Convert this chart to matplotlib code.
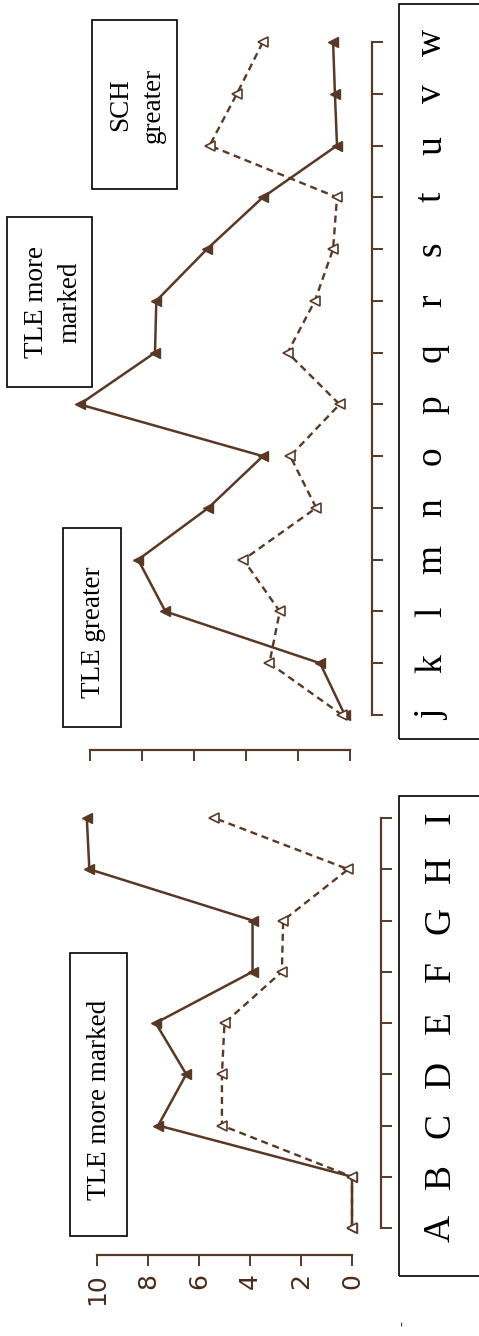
import matplotlib
matplotlib.use("Agg")
import matplotlib.pyplot as plt
from matplotlib.patches import Rectangle

# panel 1 (lower in the picture)
left_categories = ["A", "B", "C", "D", "E", "F", "G", "H", "I"]
left_tle = [0, 0, 7.6, 6.5, 7.7, 3.9, 3.9, 10.3, 10.4]
left_sch = [0, 0, 5.1, 5.1, 5.0, 2.75, 2.7, 0.15, 5.4]

# panel 2 (upper in the picture)
right_categories = ["j", "k", "l", "m", "n", "o", "p", "q", "r", "s", "t", "u", "v", "w"]
right_tle = [0.2, 1.15, 7.1, 8.15, 5.45, 3.35, 10.4, 7.5, 7.45, 5.5, 3.35, 0.5, 0.58, 0.65]
right_sch = [0.3, 3.1, 2.7, 4.1, 1.3, 2.3, 0.4, 2.4, 1.35, 0.65, 0.5, 5.4, 4.35, 3.35]

value_ticks = [0, 2, 4, 6, 8, 10]

W, H = 479, 1336
BROWN = "#5a3826"
SERIF = ["Liberation Serif", "DejaVu Serif"]

fig = plt.figure(figsize=(W / 100, H / 100), dpi=100)


def px_box(x0, y0, x1, y1):
    # pixel box (top-left origin) -> figure fraction rect
    return [x0 / W, 1 - y1 / H, (x1 - x0) / W, (y1 - y0) / H]


def make_panel(box, zero_px, px_unit, first_py, py_cat, cat_spine_px, val_spine_py,
               cats, tle, sch, show_values=True):
    x0, y0, x1, y1 = box
    ax = fig.add_axes(px_box(x0, y0, x1, y1))
    ax.set_xlim((zero_px - x0) / px_unit, (zero_px - x1) / px_unit)
    ax.set_ylim((first_py - y1) / py_cat, (first_py - y0) / py_cat)
    ax.patch.set_alpha(0)

    pos = list(range(len(cats)))
    ax.plot(tle, pos, color=BROWN, lw=1.8, marker="<", ms=7,
            mfc=BROWN, mec=BROWN, zorder=3)
    ax.plot(sch, pos, color=BROWN, lw=1.7, ls=(0, (3, 2)), marker="<", ms=7,
            mfc="white", mec=BROWN, mew=1.2, zorder=3)

    for s in ["left", "top"]:
        ax.spines[s].set_visible(False)
    ax.spines["right"].set_position(("data", (zero_px - cat_spine_px) / px_unit))
    ax.spines["right"].set_bounds(0, len(cats) - 1)
    ax.spines["bottom"].set_position(("data", (first_py - val_spine_py) / py_cat))
    ax.spines["bottom"].set_bounds(0, 10)
    for s in ["right", "bottom"]:
        ax.spines[s].set_color(BROWN)
        ax.spines[s].set_linewidth(1.6)

    ax.yaxis.tick_right()
    ax.set_yticks(pos)
    ax.set_yticklabels(cats, rotation=90, fontsize=27, family=SERIF,
                       ha="center", va="center")
    ax.tick_params(axis="y", direction="out", length=8, width=1.4,
                   color=BROWN, pad=35)

    ax.set_xticks(value_ticks)
    if show_values:
        ax.set_xticklabels([str(v) for v in value_ticks], rotation=90,
                           fontsize=18, color="#4a2c1c")
    else:
        ax.set_xticklabels([])
    ax.tick_params(axis="x", direction="out", length=8, width=1.4,
                   color=BROWN, pad=5)
    return ax


make_panel((60, 780, 392, 1262), 352, 25.5, 1228, 51.25, 381, 1255,
           left_categories, left_tle, left_sch)
make_panel((60, 0, 392, 760), 350, 26.0, 715, 51.77, 372, 750,
           right_categories, right_tle, right_sch, show_values=False)


def frame(x0, y0, x1, y1):
    fig.add_artist(Rectangle((x0 / W, 1 - y1 / H), (x1 - x0) / W, (y1 - y0) / H,
                             transform=fig.transFigure, fill=False,
                             edgecolor="black", lw=1.2, clip_on=False))


def note(x, y, s):
    fig.text(x / W, 1 - y / H, s, rotation=90, ha="center", va="center",
             fontsize=19.5, family=SERIF, linespacing=1.45, multialignment="center")


# category label frames
frame(399, 796, 490, 1276)
frame(399, 4, 490, 739)

# annotation frames
frame(70, 953, 127, 1236)
note(100, 1100, "TLE more marked")
frame(63, 528, 121, 727)
note(93, 632, "TLE greater")
frame(7, 217, 92, 387)
note(53, 302, "TLE more\nmarked")
frame(92, 20, 177, 189)
note(137, 105, "SCH\ngreater")

fig.text(403 / W, 1 - 1324 / H, "-", rotation=90, ha="center", va="center",
         fontsize=10, color="#333333")

fig.savefig("out.png", dpi=100)
